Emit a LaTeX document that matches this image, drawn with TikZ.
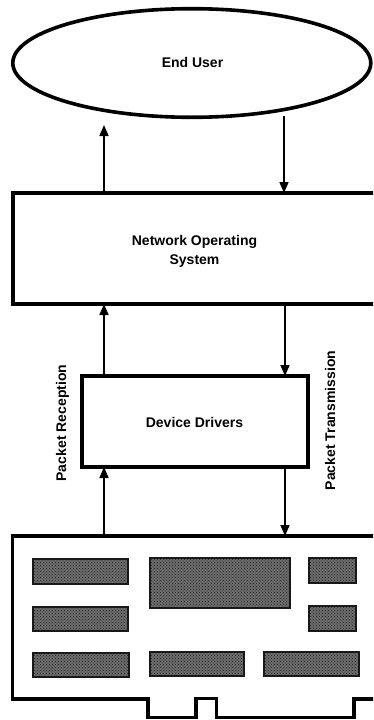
\documentclass[tikz,border=0pt]{standalone}
\usepackage{fontspec}
\setmainfont{Liberation Sans}
\usetikzlibrary{shapes.geometric,arrows.meta,patterns}
\tikzset{
  x=1pt,y=-1pt,
  heavy/.style={draw=black,line width=3.6pt,fill=none,inner sep=0pt,outer sep=0pt,line join=miter},
  plate/.style={heavy,rectangle,anchor=north west},
  chip/.style={draw=black!90,line width=2pt,preaction={fill=black!58},pattern=crosshatch dots,pattern color=black!85,rectangle,anchor=north west,inner sep=0pt,outer sep=0pt},
  lab/.style={font=\bfseries\fontsize{14}{19}\selectfont,align=center,inner sep=0pt,text=black},
  flow/.style={draw=black,line width=1.6pt,-{Triangle[length=11pt,width=9pt]},shorten >=0pt},
}
\newcommand{\chipbox}[5]{\node[chip,minimum width=#4-#2,minimum height=#5-#3] (#1) at (#2,#3) {};}
\begin{document}
\begin{tikzpicture}
\clip (0,0) rectangle (373,720);
\fill[white] (0,0) rectangle (373,720);
% main shapes
\node[heavy,ellipse,minimum width=358pt,minimum height=108.6pt] (user) at (191.8,63) {};
\node[plate,minimum width=375pt,minimum height=111pt] (nos) at (13,193) {};
\node[plate,minimum width=226pt,minimum height=91pt] (drv) at (82,376) {};
% network card outline
\coordinate (cardtop) at (104,536);
\coordinate (cardtopr) at (285,536);
\draw[heavy] (380,536) -- (12.5,536) -- (12.5,699) -- (148,699) -- (148,717.5) -- (196,717.5) -- (196,698.5) -- (216.5,698.5) -- (216.5,717.5) -- (354,717.5) -- (354,699) -- (380,699);
% chips
\chipbox{a}{33}{559}{128}{583.5}
\chipbox{b}{149.5}{558}{290}{608}
\chipbox{c}{309}{558}{356}{582.5}
\chipbox{d}{33}{606.5}{128}{630.5}
\chipbox{e}{309}{605.5}{356}{630.5}
\chipbox{f}{33}{652.5}{128.5}{676.5}
\chipbox{g}{149.5}{652}{244}{676}
\chipbox{h}{263.5}{651.5}{359}{675.5}
% labels
\node[lab] (tuser) at (192.5,62.5) {End User};
\node[lab] (tnos) at (194.5,251) {Network Operating\\System};
\node[lab] (tdrv) at (194.5,422) {Device Drivers};
\node[lab,rotate=90] (trx) at (62.5,423) {Packet Reception};
\node[lab,rotate=90] (ttx) at (330,420.5) {Packet Transmission};
% free ends and connectors
\coordinate (upend) at (104,125);
\coordinate (downstart) at (284,116);
\draw[flow] (nos.north -| upend) -- (upend);
\draw[flow] (downstart) -- (nos.north -| downstart);
\coordinate (upx) at (104,0);
\coordinate (dnx) at (285,0);
\draw[flow] (drv.north -| upx) -- (nos.south -| upx);
\draw[flow] (nos.south -| dnx) -- (drv.north -| dnx);
\draw[flow] (cardtop) -- (drv.south -| cardtop);
\draw[flow] (drv.south -| cardtopr) -- (cardtopr);
\end{tikzpicture}
\end{document}
